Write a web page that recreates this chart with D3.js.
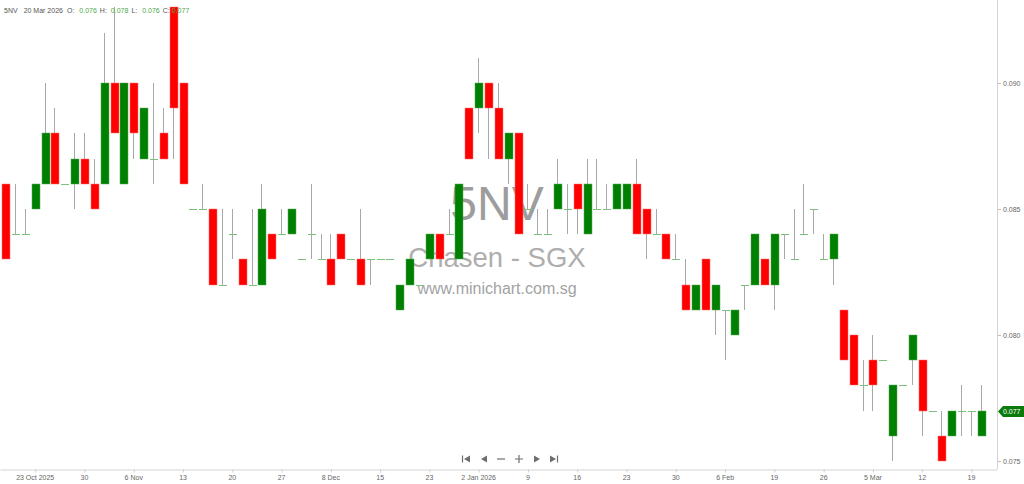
<!DOCTYPE html>
<html>
<head>
<meta charset="utf-8">
<script src="https://cdn.jsdelivr.net/npm/d3@7/dist/d3.min.js"></script>
<style>
  html, body { margin: 0; padding: 0; background: #fff; }
  svg { display: block; }
  text { font-family: "Liberation Sans", Arial, sans-serif; }
</style>
</head>
<body>
<svg id="chart" width="1024" height="484"></svg>
<script>
// daily bars, oldest first (last bar = 20 Mar 2026)
var opens = [
  0.086,0.084,0.084,0.085,0.086,0.088,0.086,0.086,0.087,0.086,
  0.086,0.090,0.086,0.090,0.087,0.087,0.088,0.093,0.090,0.085,
  0.085,0.085,0.082,0.084,0.083,0.082,0.082,0.084,0.084,0.084,
  0.083,0.084,0.083,0.083,0.084,0.083,0.083,0.083,0.083,0.083,
  0.081,0.082,0.082,0.083,0.084,0.084,0.083,0.089,0.089,0.090,
  0.089,0.087,0.088,0.085,0.084,0.084,0.085,0.085,0.086,0.084,
  0.085,0.085,0.085,0.085,0.086,0.085,0.084,0.084,0.083,0.082,
  0.081,0.083,0.081,0.081,0.080,0.082,0.082,0.083,0.082,0.084,
  0.083,0.084,0.085,0.083,0.083,0.081,0.080,0.078,0.079,0.079,
  0.076,0.078,0.079,0.079,0.077,0.076,0.076,0.077,0.077,0.076
];
var highs = [
  0.086,0.086,0.085,0.086,0.090,0.089,0.086,0.088,0.088,0.087,
  0.092,0.093,0.090,0.090,0.089,0.090,0.089,0.093,0.090,0.085,
  0.086,0.085,0.085,0.085,0.083,0.085,0.086,0.084,0.085,0.085,
  0.083,0.086,0.084,0.084,0.084,0.083,0.085,0.083,0.083,0.083,
  0.082,0.083,0.082,0.084,0.084,0.085,0.086,0.089,0.091,0.090,
  0.090,0.088,0.088,0.086,0.085,0.085,0.087,0.086,0.086,0.087,
  0.087,0.086,0.086,0.086,0.087,0.085,0.085,0.084,0.084,0.083,
  0.082,0.083,0.082,0.081,0.081,0.082,0.084,0.083,0.084,0.084,
  0.085,0.086,0.085,0.084,0.084,0.081,0.080,0.079,0.080,0.079,
  0.078,0.078,0.080,0.079,0.077,0.077,0.077,0.078,0.077,0.078
];
var lows = [
  0.083,0.084,0.084,0.085,0.086,0.086,0.086,0.085,0.086,0.085,
  0.086,0.088,0.086,0.087,0.087,0.086,0.087,0.087,0.086,0.085,
  0.085,0.082,0.082,0.083,0.082,0.082,0.082,0.083,0.084,0.084,
  0.083,0.083,0.083,0.082,0.083,0.083,0.082,0.082,0.083,0.083,
  0.081,0.082,0.082,0.083,0.083,0.084,0.083,0.087,0.088,0.087,
  0.087,0.086,0.084,0.085,0.084,0.084,0.085,0.084,0.084,0.084,
  0.085,0.085,0.085,0.085,0.084,0.083,0.084,0.083,0.083,0.081,
  0.081,0.081,0.080,0.079,0.080,0.081,0.082,0.082,0.081,0.083,
  0.083,0.084,0.084,0.083,0.082,0.079,0.078,0.077,0.077,0.079,
  0.075,0.078,0.078,0.076,0.077,0.075,0.076,0.076,0.076,0.076
];
var closes = [
  0.083,0.084,0.084,0.086,0.088,0.086,0.086,0.087,0.086,0.085,
  0.090,0.088,0.090,0.088,0.089,0.087,0.087,0.089,0.086,0.085,
  0.085,0.082,0.082,0.084,0.082,0.082,0.085,0.083,0.084,0.085,
  0.083,0.084,0.083,0.082,0.083,0.083,0.082,0.083,0.083,0.083,
  0.082,0.083,0.082,0.084,0.083,0.084,0.086,0.087,0.090,0.089,
  0.087,0.088,0.084,0.085,0.084,0.084,0.086,0.085,0.085,0.086,
  0.085,0.085,0.086,0.086,0.084,0.084,0.084,0.083,0.083,0.081,
  0.082,0.081,0.082,0.081,0.081,0.082,0.084,0.082,0.084,0.084,
  0.083,0.084,0.085,0.083,0.084,0.079,0.078,0.078,0.078,0.079,
  0.078,0.078,0.080,0.077,0.077,0.075,0.077,0.077,0.077,0.077
];

var tickIndex = [3, 8, 13, 18, 23, 28, 33, 38, 43, 48, 53, 58, 63, 68, 73, 78, 83, 88, 93, 98];
var tickLabels = ["23 Oct 2025", "30", "6 Nov", "13", "20", "27", "8 Dec", "15", "23", "2 Jan 2026",
                  "9", "16", "23", "30", "6 Feb", "19", "26", "5 Mar", "12", "19"];
var priceTicks = [0.075, 0.080, 0.085, 0.090];

var symbol = "5NV",
    company = "Chasen - SGX",
    site = "www.minichart.com.sg",
    lastDate = "20 Mar 2026";

var svg = d3.select("#chart"),
    width = +svg.attr("width"),
    height = +svg.attr("height"),
    plotRight = 997,
    plotBottom = 469;

var bars = opens.map(function(o, i) {
    return {i: i, o: o, h: highs[i], l: lows[i], c: closes[i]};
});

var x = d3.scaleLinear().domain([-0.52, 100.64]).range([0, plotRight]);
var y = d3.scaleLinear().domain([0.07468, 0.09329]).range([plotBottom, 0]);
var step = x(1) - x(0),
    bodyW = Math.round(step * 0.72);

function cx(d) { return Math.round(x(d.i)) + 0.5; }

// watermark behind the candles
var wm = svg.append("g").attr("text-anchor", "middle").attr("fill", "#8c8c8c");
wm.append("text").attr("x", 497).attr("y", 220).attr("font-size", "48px").attr("opacity", 0.85).text(symbol);
wm.append("text").attr("x", 497).attr("y", 267).attr("font-size", "27.5px").attr("opacity", 0.7).text(company);
wm.append("text").attr("x", 497).attr("y", 294).attr("font-size", "16px").attr("opacity", 0.8).text(site);

// axes
var xAxis = d3.axisBottom(x)
    .tickValues(tickIndex)
    .tickFormat(function(d, k) { return tickLabels[k]; })
    .tickSizeInner(3)
    .tickSizeOuter(0);

var gx = svg.append("g")
    .attr("transform", "translate(0," + (plotBottom + 0.5) + ")")
    .call(xAxis);
gx.select(".domain").attr("stroke", "#d4d4d4");
gx.selectAll(".tick line").attr("stroke", "#cfcfcf").attr("transform", "translate(0.5,0)");
gx.selectAll(".tick text").attr("fill", "#666").attr("font-size", "7px").attr("dy", "0.6em")
    .attr("font-family", "'Liberation Sans', Arial, sans-serif");

svg.append("line")
    .attr("x1", plotRight + 0.5).attr("x2", plotRight + 0.5)
    .attr("y1", 0).attr("y2", plotBottom)
    .attr("stroke", "#d4d4d4");

var yAxis = d3.axisRight(y)
    .tickValues(priceTicks)
    .tickFormat(d3.format(".3f"))
    .tickSizeInner(3)
    .tickSizeOuter(0)
    .tickPadding(2);

var gy = svg.append("g")
    .attr("transform", "translate(" + (plotRight + 1) + ",0)")
    .call(yAxis);
gy.select(".domain").remove();
gy.selectAll(".tick line").attr("stroke", "#bbb");
gy.selectAll(".tick text").attr("fill", "#666").attr("font-size", "7px")
    .attr("font-family", "'Liberation Sans', Arial, sans-serif");

// candles
var candles = svg.append("g");

candles.selectAll("line.wick")
    .data(bars.filter(function(d) { return d.h > d.l; }))
    .enter().append("line")
      .attr("class", "wick")
      .attr("x1", cx).attr("x2", cx)
      .attr("y1", function(d) { return Math.round(y(d.h)); })
      .attr("y2", function(d) { return Math.round(y(d.l)); })
      .attr("stroke", "#a8a8a8")
      .attr("stroke-width", 1);

candles.selectAll("rect.body")
    .data(bars.filter(function(d) { return d.o != d.c; }))
    .enter().append("rect")
      .attr("class", "body")
      .attr("x", function(d) { return Math.round(x(d.i)) - Math.floor(bodyW / 2); })
      .attr("width", bodyW + 1)
      .attr("y", function(d) { return Math.round(y(Math.max(d.o, d.c))); })
      .attr("height", function(d) { return Math.round(y(Math.min(d.o, d.c))) - Math.round(y(Math.max(d.o, d.c))); })
      .attr("fill", function(d) { return d.c > d.o ? "#008000" : "#ff0000"; })
      .attr("stroke", function(d) { return d.c > d.o ? "#5aa85a" : "#ff7070"; })
      .attr("stroke-width", 0.5);

candles.selectAll("line.doji")
    .data(bars.filter(function(d) { return d.o == d.c; }))
    .enter().append("line")
      .attr("class", "doji")
      .attr("x1", function(d) { return Math.round(x(d.i)) - Math.floor(bodyW / 2); })
      .attr("x2", function(d) { return Math.round(x(d.i)) - Math.floor(bodyW / 2) + bodyW + 1; })
      .attr("y1", function(d) { return Math.round(y(d.c)) + 0.5; })
      .attr("y2", function(d) { return Math.round(y(d.c)) + 0.5; })
      .attr("stroke", "#7cc07c")
      .attr("stroke-width", 1);

// last price badge
var last = bars[bars.length - 1],
    ly = Math.round(y(last.c)) + 0.5;
svg.append("path")
    .attr("d", "M" + (plotRight + 1) + "," + ly + "L" + (plotRight + 6) + "," + (ly - 5.5) +
               "H" + width + "V" + (ly + 5.5) + "H" + (plotRight + 6) + "Z")
    .attr("fill", "#0a7a0a");
svg.append("text")
    .attr("x", plotRight + 6).attr("y", ly + 2.5)
    .attr("fill", "#fff").attr("font-size", "7px")
    .text(d3.format(".3f")(last.c));

// header line
var head = svg.append("text").attr("x", 4).attr("y", 12.5).attr("font-size", "7px").attr("fill", "#555");
var green = "#4aa84a";
head.append("tspan").text(symbol);
head.append("tspan").attr("dx", 6).text(lastDate);
head.append("tspan").attr("dx", 4).text("O:");
head.append("tspan").attr("dx", 5).attr("fill", green).text(d3.format(".3f")(last.o));
head.append("tspan").attr("dx", 3).text("H:");
head.append("tspan").attr("dx", 4).attr("fill", green).text(d3.format(".3f")(last.h));
head.append("tspan").attr("dx", 3).text("L:");
head.append("tspan").attr("dx", 5).attr("fill", green).text(d3.format(".3f")(last.l));
head.append("tspan").attr("dx", 3).text("C:");
head.append("tspan").attr("dx", 2).attr("fill", green).text(d3.format(".3f")(last.c));

// navigation buttons
var nav = svg.append("g").attr("fill", "#6e6e6e").attr("stroke", "#6e6e6e");
var navY = 459;
nav.append("path").attr("d", "M462.5," + (navY - 3.5) + "V" + (navY + 3.5)).attr("stroke-width", 1.2);
nav.append("path").attr("d", "M464," + navY + "L470," + (navY - 3.5) + "V" + (navY + 3.5) + "Z").attr("stroke", "none");
nav.append("path").attr("d", "M481," + navY + "L487," + (navY - 3.5) + "V" + (navY + 3.5) + "Z").attr("stroke", "none");
nav.append("path").attr("d", "M497," + navY + "H505").attr("stroke-width", 1.2);
nav.append("path").attr("d", "M515," + navY + "H523M519," + (navY - 4) + "V" + (navY + 4)).attr("stroke-width", 1.2);
nav.append("path").attr("d", "M540," + navY + "L534," + (navY - 3.5) + "V" + (navY + 3.5) + "Z").attr("stroke", "none");
nav.append("path").attr("d", "M556," + navY + "L550," + (navY - 3.5) + "V" + (navY + 3.5) + "Z").attr("stroke", "none");
nav.append("path").attr("d", "M557.5," + (navY - 3.5) + "V" + (navY + 3.5)).attr("stroke-width", 1.2);
</script>
</body>
</html>
